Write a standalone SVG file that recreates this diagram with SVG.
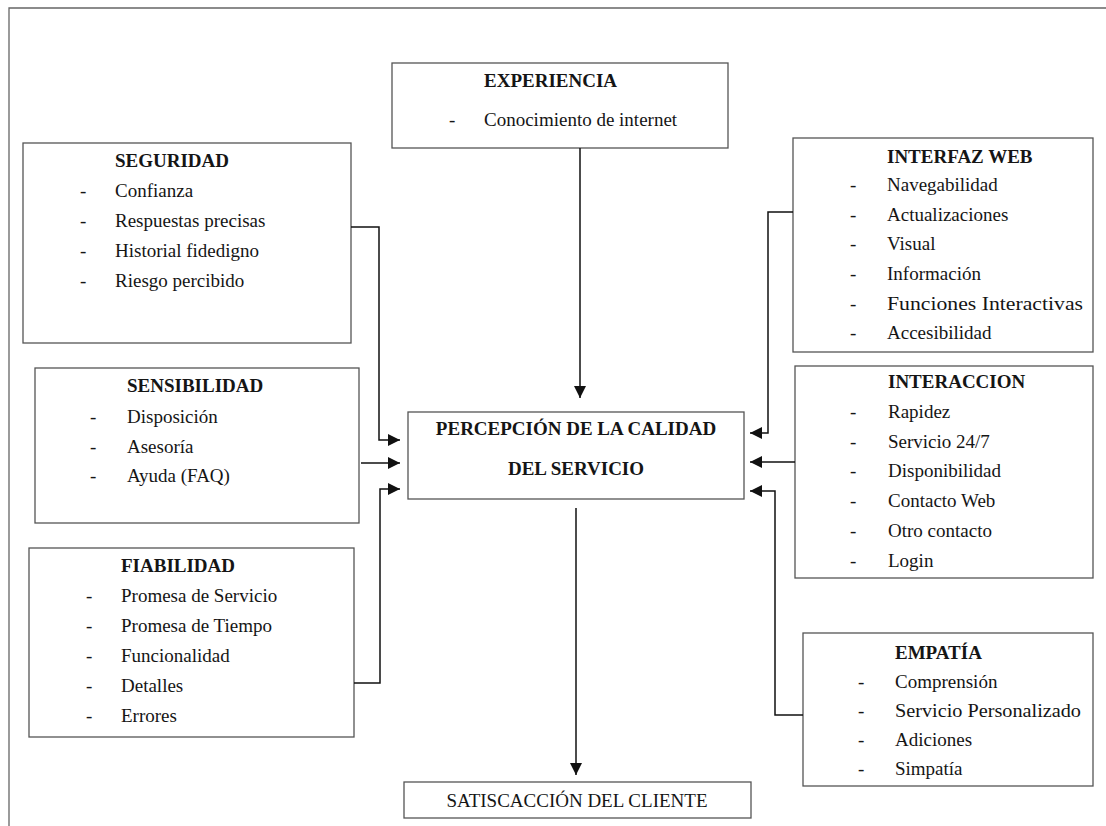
<svg xmlns="http://www.w3.org/2000/svg" width="1106" height="826" viewBox="0 0 1106 826">
<defs>
<style>
.box{fill:#fff;stroke:#555;stroke-width:1.3}
.t{font-family:"Liberation Serif","Times New Roman",serif;font-size:19px;fill:#151515}
.b{font-weight:bold}
.c{text-anchor:middle}
.ln{fill:none;stroke:#111;stroke-width:1.5}
.frame{fill:none;stroke:#666;stroke-width:1.3}
</style>
<marker id="ah" viewBox="0 0 10 10" refX="10" refY="5" markerWidth="12" markerHeight="12" markerUnits="userSpaceOnUse" orient="auto">
<path d="M0,0 L10,5 L0,10 Z" fill="#111"/>
</marker>
</defs>
<rect width="1106" height="826" fill="#fff"/>
<path class="frame" d="M9,826 V8 H1106"/>

<g id="experiencia">
<rect class="box" x="392" y="63" width="336" height="85"/>
<text class="t b" x="484" y="87">EXPERIENCIA</text>
<text class="t" x="449" y="126">-</text>
<text class="t" x="484" y="126">Conocimiento de internet</text>
</g>

<g id="seguridad">
<rect class="box" x="23" y="143" width="328" height="200"/>
<text class="t b" x="115" y="167">SEGURIDAD</text>
<text class="t" x="80" y="197">-</text><text class="t" x="115" y="197">Confianza</text>
<text class="t" x="80" y="227">-</text><text class="t" x="115" y="227">Respuestas precisas</text>
<text class="t" x="80" y="257">-</text><text class="t" x="115" y="257">Historial fidedigno</text>
<text class="t" x="80" y="287">-</text><text class="t" x="115" y="287">Riesgo percibido</text>
</g>

<g id="sensibilidad">
<rect class="box" x="35" y="368" width="324" height="155"/>
<text class="t b" x="127" y="392">SENSIBILIDAD</text>
<text class="t" x="90" y="423">-</text><text class="t" x="127" y="423">Disposición</text>
<text class="t" x="90" y="453">-</text><text class="t" x="127" y="453">Asesoría</text>
<text class="t" x="90" y="482">-</text><text class="t" x="127" y="482">Ayuda (FAQ)</text>
</g>

<g id="fiabilidad">
<rect class="box" x="29" y="548" width="325" height="189"/>
<text class="t b" x="121" y="572">FIABILIDAD</text>
<text class="t" x="86" y="602">-</text><text class="t" x="121" y="602">Promesa de Servicio</text>
<text class="t" x="86" y="632">-</text><text class="t" x="121" y="632">Promesa de Tiempo</text>
<text class="t" x="86" y="662">-</text><text class="t" x="121" y="662">Funcionalidad</text>
<text class="t" x="86" y="692">-</text><text class="t" x="121" y="692">Detalles</text>
<text class="t" x="86" y="722">-</text><text class="t" x="121" y="722">Errores</text>
</g>

<g id="percepcion">
<rect class="box" x="408" y="412" width="336" height="87"/>
<text class="t b c" x="576" y="435">PERCEPCIÓN DE LA CALIDAD</text>
<text class="t b c" x="576" y="475">DEL SERVICIO</text>
</g>

<g id="satisfaccion">
<rect class="box" x="404" y="782" width="347" height="36"/>
<text class="t c" x="577" y="807">SATISCACCIÓN DEL CLIENTE</text>
</g>

<g id="interfaz">
<rect class="box" x="793" y="138" width="300" height="214"/>
<text class="t b" x="887" y="163">INTERFAZ WEB</text>
<text class="t" x="850" y="191">-</text><text class="t" x="887" y="191">Navegabilidad</text>
<text class="t" x="850" y="221">-</text><text class="t" x="887" y="221">Actualizaciones</text>
<text class="t" x="850" y="250">-</text><text class="t" x="887" y="250">Visual</text>
<text class="t" x="850" y="280">-</text><text class="t" x="887" y="280">Información</text>
<text class="t" x="850" y="310">-</text><text class="t" x="887" y="310" textLength="196" lengthAdjust="spacingAndGlyphs">Funciones Interactivas</text>
<text class="t" x="850" y="339">-</text><text class="t" x="887" y="339">Accesibilidad</text>
</g>

<g id="interaccion">
<rect class="box" x="795" y="366" width="298" height="212"/>
<text class="t b" x="888" y="388">INTERACCION</text>
<text class="t" x="850" y="418">-</text><text class="t" x="888" y="418">Rapidez</text>
<text class="t" x="850" y="448">-</text><text class="t" x="888" y="448">Servicio 24/7</text>
<text class="t" x="850" y="477">-</text><text class="t" x="888" y="477">Disponibilidad</text>
<text class="t" x="850" y="507">-</text><text class="t" x="888" y="507">Contacto Web</text>
<text class="t" x="850" y="537">-</text><text class="t" x="888" y="537">Otro contacto</text>
<text class="t" x="850" y="567">-</text><text class="t" x="888" y="567">Login</text>
</g>

<g id="empatia">
<rect class="box" x="803" y="633" width="290" height="153"/>
<text class="t b" x="895" y="659">EMPATÍA</text>
<text class="t" x="858" y="688">-</text><text class="t" x="895" y="688">Comprensión</text>
<text class="t" x="858" y="717">-</text><text class="t" x="895" y="717" textLength="186" lengthAdjust="spacingAndGlyphs">Servicio Personalizado</text>
<text class="t" x="858" y="746">-</text><text class="t" x="895" y="746">Adiciones</text>
<text class="t" x="858" y="775">-</text><text class="t" x="895" y="775">Simpatía</text>
</g>

<g id="connectors">
<path class="ln" d="M580,148 V398" marker-end="url(#ah)"/>
<path class="ln" d="M351,227 H379 V440 H400" marker-end="url(#ah)"/>
<path class="ln" d="M361,463 H400" marker-end="url(#ah)"/>
<path class="ln" d="M354,683 H380 V489 H400" marker-end="url(#ah)"/>
<path class="ln" d="M793,212 H768 V433 H750" marker-end="url(#ah)"/>
<path class="ln" d="M795,462 H750" marker-end="url(#ah)"/>
<path class="ln" d="M803,715 H775 V491 H750" marker-end="url(#ah)"/>
<path class="ln" d="M576,508 V775" marker-end="url(#ah)"/>
</g>
</svg>
